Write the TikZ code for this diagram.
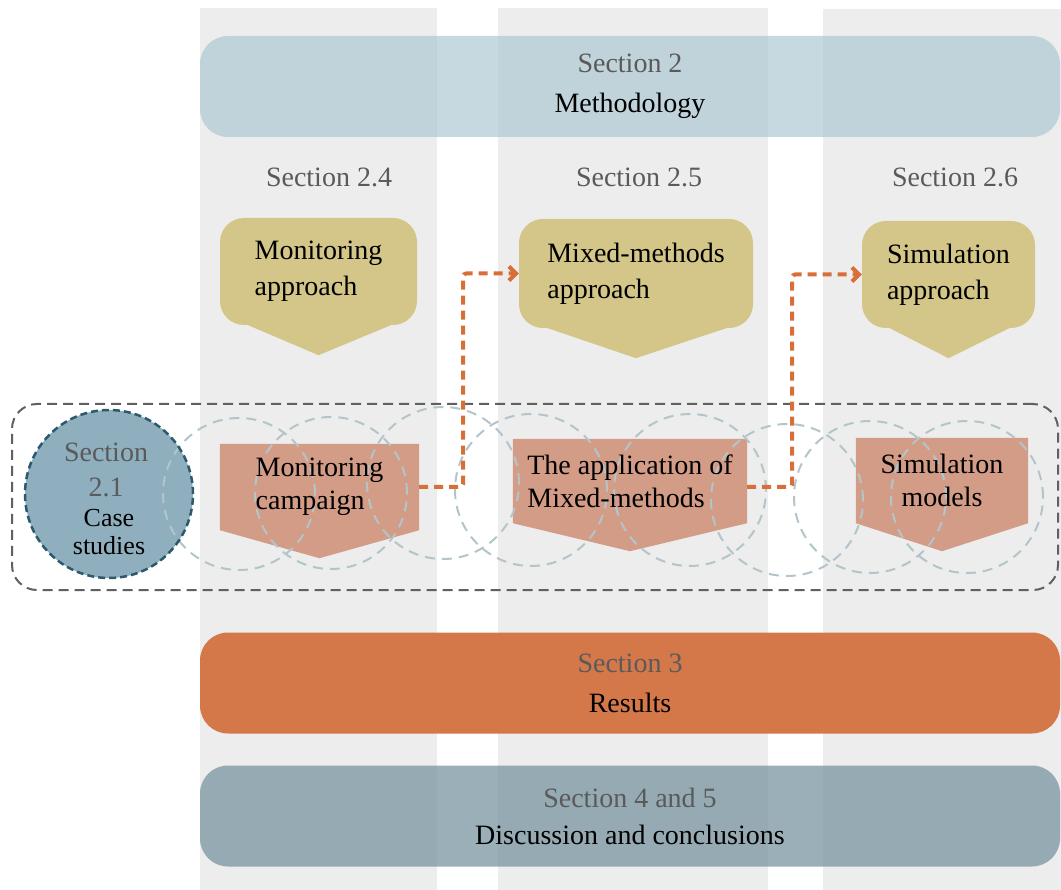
\documentclass[tikz,border=0pt]{standalone}
\usepackage{fontspec}
\setmainfont{Liberation Serif}
\usepackage{tikz}
\usetikzlibrary{arrows.meta,positioning,calc,backgrounds}

\definecolor{colgrey}{HTML}{EDEDED}
\definecolor{methblue}{HTML}{B0C9D4}
\definecolor{resorange}{HTML}{D4784A}
\definecolor{discblue}{HTML}{7894A0}
\definecolor{approachyel}{HTML}{D3C688}
\definecolor{stepred}{HTML}{D39C87}
\definecolor{casefill}{HTML}{8FAFBF}
\definecolor{caseline}{HTML}{2C5A6C}
\definecolor{ringgrey}{HTML}{B3C5CA}
\definecolor{floworange}{HTML}{D96F38}
\definecolor{secgrey}{HTML}{5A5A5A}
\definecolor{framegrey}{HTML}{606060}

\begin{document}
\begin{tikzpicture}
	% Styles
	[
	x=1pt, y=-1pt,
	sectionbar/.style={rounded corners=28pt, inner sep=0pt, minimum width=860pt, minimum height=101pt, align=center, text opacity=1, font=\fontsize{28}{40}\selectfont},
	seclabel/.style={anchor=base, text=secgrey, inner sep=0pt, font=\fontsize{28}{34}\selectfont},
	approach/.style={fill=approachyel, rounded corners=24pt, inner sep=0pt, align=left, font=\fontsize{28}{36}\selectfont},
	steptext/.style={inner sep=0pt, font=\fontsize{28}{33}\selectfont},
	casecircle/.style={circle, draw=caseline, line width=2.5pt, dash pattern=on 7pt off 4pt, minimum size=168pt, inner sep=0pt},
	casetext/.style={inner sep=0pt, align=center},
	studybox/.style={draw=framegrey, line width=2pt, dash pattern=on 10pt off 6pt, rounded corners=25pt, inner sep=0pt},
	ring/.style={draw=ringgrey, line width=2pt, dash pattern=on 10pt off 7pt},
	flow/.style={draw=floworange, line width=4pt, dash pattern=on 9pt off 6pt, rounded corners=3pt, -{Straight Barb[length=7pt,width=14pt]}},
	]
	\useasboundingbox (0,0) rectangle (1061,890);

	% Nodes
	\node at (630,86.5)	(meth)	[sectionbar, fill=methblue, fill opacity=0.72] {{\color{secgrey}Section 2}\\Methodology};
	\node at (630,683)	(res)	[sectionbar, fill=resorange] {{\color{secgrey}Section 3}\\Results};
	\node at (630,816)	(disc)	[sectionbar, fill=discblue, fill opacity=0.75, font=\fontsize{28}{37}\selectfont] {{\color{secgrey}Section 4 and 5}\\Discussion and conclusions};

	\node at (329,187)	(s24)	[seclabel] {Section 2.4};
	\node at (639,187)	(s25)	[seclabel] {Section 2.5};
	\node at (955,187)	(s26)	[seclabel] {Section 2.6};

	\node at (318.5,271.5)	(monapp)	[approach, minimum width=197pt, minimum height=107pt] {Monitoring\\approach};
	\node at (636,273.5)	(mixapp)	[approach, minimum width=234pt, minimum height=109pt] {Mixed-methods\\approach};
	\node at (948.5,274.5)	(simapp)	[approach, minimum width=173pt, minimum height=107pt] {Simulation\\approach};
	\foreach \n in {monapp,mixapp,simapp}
		\fill[approachyel] ($(\n.south west)+(26,-1)$) -- ($(\n.south east)+(-24,-1)$) -- ($(\n.south)+(0,30)$) -- cycle;

	\node at (535,497)	(cases)	[studybox, minimum width=1046pt, minimum height=186pt] {};
	\node at (109,494)	(case)	[casecircle] {};
	\node at ($(case.center)+(-3,-24)$)	(casesec)	[casetext, text=secgrey, font=\fontsize{28}{35}\selectfont] {Section\\2.1};
	\node at ($(case.center)+(0,38)$)	(casename)	[casetext, font=\fontsize{26}{28}\selectfont] {Case\\studies};

	\node at (319.5,487)	(camp)	[steptext, align=left, minimum width=199pt, minimum height=86pt] {Monitoring\\campaign};
	\node at (630,481)	(appl)	[steptext, align=left, minimum width=234pt, minimum height=84pt] {The application of\\Mixed-methods};
	\node at (942,480.5)	(simmod)	[steptext, align=center, minimum width=172pt, minimum height=85pt] {Simulation\\models};

	% Connections
	\draw[flow] (camp.east) -- ++(44,0) |- (mixapp.west);
	\draw[flow] ($(appl.east)+(0,6)$) -- ++(45,0) |- (simapp.west);

	% Background
	\begin{scope}[on background layer]
		\fill[colgrey] (200,8) rectangle (437,890);
		\fill[colgrey] (498,8) rectangle (768,890);
		\fill[colgrey] (823,9) rectangle (1061,890);
		\foreach \n in {camp,appl,simmod}
			\fill[stepred] (\n.north west) -- (\n.north east) -- (\n.south east) -- ($(\n.south)+(0,28)$) -- (\n.south west) -- cycle;
		\fill[casefill] (case.center) circle (84pt);
		\foreach \x/\y in {239/494,331/493,443/483,531/490,690/490,787/500,870/497,967/497}
			\draw[ring] (\x,\y) circle (76pt);
	\end{scope}

\end{tikzpicture}
\end{document}
